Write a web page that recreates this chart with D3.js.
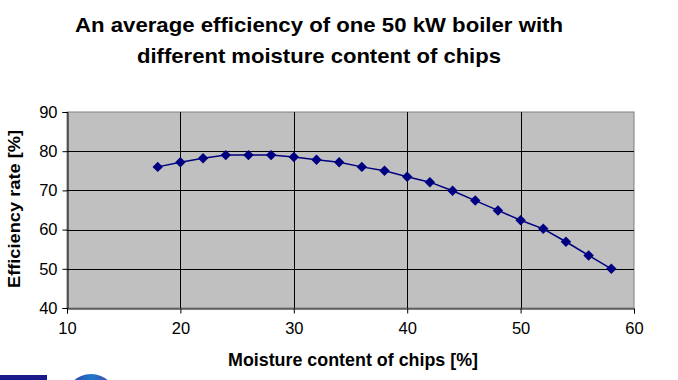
<!DOCTYPE html>
<html><head><meta charset="utf-8">
<script src="https://cdn.jsdelivr.net/npm/d3@7"></script>
<style>body{margin:0;background:#fff}svg{display:block}</style>
</head><body>
<svg id="c" width="678" height="380"></svg>
<script>
const moisture = [18,20,22,24,26,28,30,32,34,36,38,40,42,44,46,48,50,52,54,56,58];
const efficiency = [76,77.2,78.2,79,79,79,78.5,77.8,77.2,76,75,73.5,72.1,69.9,67.4,64.9,62.4,60.2,56.9,53.4,50];
const xTicks = [10,20,30,40,50,60];
const yTicks = [40,50,60,70,80,90];
const titleLines = ["An average efficiency of one 50 kW boiler with","different moisture content of chips"];
const xTitle = "Moisture content of chips [%]";
const yTitle = "Efficiency rate [%]";

const svg = d3.select("#c");
const font = "'Liberation Sans', Arial, sans-serif";
const L = 67, R = 634, T = 112, B = 308;
const x = d3.scaleLinear().domain([10,60]).range([L,R]);
const y = d3.scaleLinear().domain([40,90]).range([B,T]);

// title
const tl = [{t:titleLines[0], y:32, w:488},{t:titleLines[1], y:63, w:364}];
svg.selectAll("text.title").data(tl).join("text").attr("class","title")
  .attr("x",319).attr("y",d=>d.y).attr("text-anchor","middle")
  .attr("font-family",font).attr("font-weight","bold").attr("font-size",21)
  .attr("textLength",d=>d.w).attr("lengthAdjust","spacingAndGlyphs")
  .text(d=>d.t);

// plot area
svg.append("rect").attr("x",L).attr("y",T).attr("width",R-L).attr("height",B-T)
  .attr("fill","#c0c0c0").attr("stroke","#808080").attr("stroke-width",1);

// gridlines
svg.append("g").selectAll("line").data(yTicks.slice(1,-1)).join("line")
  .attr("x1",L).attr("x2",R).attr("y1",d=>Math.round(y(d))+0.5).attr("y2",d=>Math.round(y(d))+0.5)
  .attr("stroke","#000").attr("stroke-width",1);
svg.append("g").selectAll("line").data(xTicks.slice(1,-1)).join("line")
  .attr("y1",T).attr("y2",B).attr("x1",d=>Math.round(x(d))+0.5).attr("x2",d=>Math.round(x(d))+0.5)
  .attr("stroke","#000").attr("stroke-width",1);

// axes
const yAxis = d3.axisLeft(y).tickValues(yTicks).tickSize(5).tickPadding(5);
const gy = svg.append("g").attr("transform",`translate(${L+0.5},0)`).call(yAxis);
const xAxis = d3.axisBottom(x).tickValues(xTicks).tickSize(5).tickPadding(9);
const gx = svg.append("g").attr("transform",`translate(0,${B+0.5})`).call(xAxis);
[gy,gx].forEach(g=>{
  g.attr("font-size",null).attr("font-family",null);
  g.selectAll("text").attr("font-family",font).attr("font-size",16.5).attr("fill","#000");
  g.selectAll("line").attr("stroke","#000");
  g.select(".domain").attr("stroke","#000");
});

// line + markers
const pts = moisture.map((m,i)=>[m,efficiency[i]]);
svg.append("path").datum(pts)
  .attr("d",d3.line().x(d=>x(d[0])).y(d=>y(d[1])))
  .attr("fill","none").attr("stroke","#000080").attr("stroke-width",1.5);
svg.append("g").selectAll("path").data(pts).join("path")
  .attr("d",d3.symbol().type(d3.symbolDiamond2).size(70))
  .attr("transform",d=>`translate(${x(d[0])},${y(d[1])})`)
  .attr("fill","#000080");

// axis titles
svg.append("text").attr("x",353).attr("y",366).attr("text-anchor","middle")
  .attr("font-family",font).attr("font-weight","bold").attr("font-size",17.5)
  .attr("textLength",250).attr("lengthAdjust","spacingAndGlyphs").text(xTitle);
svg.append("text").attr("transform","translate(20,209) rotate(-90)").attr("text-anchor","middle")
  .attr("font-family",font).attr("font-weight","bold").attr("font-size",17)
  .attr("textLength",158).attr("lengthAdjust","spacingAndGlyphs").text(yTitle);

// logo fragments at the bottom
const defs = svg.append("defs");
const gr = defs.append("linearGradient").attr("id","lg").attr("x1","0").attr("x2","1");
gr.append("stop").attr("offset","0").attr("stop-color","#3b2fa0");
gr.append("stop").attr("offset","0.5").attr("stop-color","#1e78c8");
gr.append("stop").attr("offset","1").attr("stop-color","#5a3aa0");
svg.append("rect").attr("x",0).attr("y",375).attr("width",47).attr("height",5).attr("fill","#1a1a8c");
svg.append("circle").attr("cx",91).attr("cy",400).attr("r",26).attr("fill","url(#lg)");
</script>
</body></html>
